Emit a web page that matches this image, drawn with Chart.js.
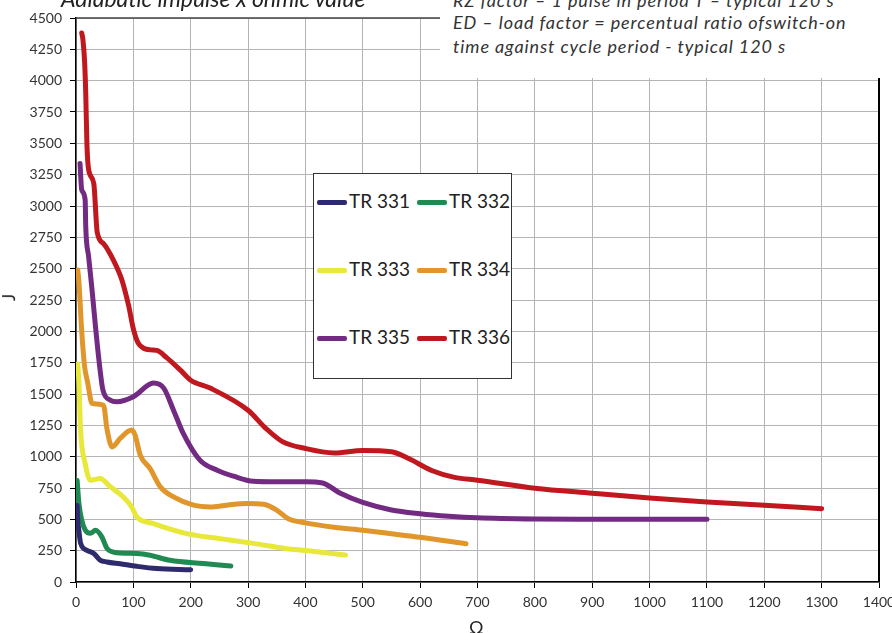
<!DOCTYPE html>
<html>
<head>
<meta charset="utf-8">
<script src="https://cdn.jsdelivr.net/npm/chart.js@4.4.1/dist/chart.umd.min.js"></script>
<style>
  html, body { margin:0; padding:0; background:#fff; }
  #wrap { position:relative; width:892px; height:633px; overflow:hidden; font-family: Lato, "Open Sans", sans-serif; }
  canvas { position:absolute; left:0; top:0; }
  .ov { position:absolute; white-space:nowrap; color:#222; }
  #title { left:61px; top:-16px; font-size:23px; font-style:italic; }
  #note { left:440px; top:0; width:452px; height:78px; background:#fff; }
  #note div { position:absolute; left:13px; font-size:18px; letter-spacing:0.9px; font-style:italic; color:#333; }
  #legend { left:313px; top:173px; width:197px; height:204px; border:1.5px solid #333; background:#fff; }
  .item { position:absolute; font-size:19px; color:#222; }
  .sw { display:inline-block; width:30px; height:5px; border-radius:2px; vertical-align:middle; margin-right:2px; position:relative; top:-1px; }
  #ytitle { left:5px; top:287px; font-size:17px; transform:rotate(-90deg); }
  #xtitle { left:469px; top:616px; font-size:18px; }
</style>
</head>
<body>
<div id="wrap">
  <canvas id="c" width="892" height="633"></canvas>
  <div id="title" class="ov">Adiabatic impulse x ohmic value</div>
  <div id="note" class="ov">
    <div style="top:-11px">RZ factor – 1 pulse in period T – typical 120 s</div>
    <div style="top:11px">ED – load factor = percentual ratio ofswitch-on</div>
    <div style="top:35px">time against cycle period - typical 120 s</div>
  </div>
  <div id="legend" class="ov"></div>
  <div id="ytitle" class="ov">J</div>
  <div id="xtitle" class="ov">Ω</div>
</div>
<script>
// ---- data ----
const seriesNames = ["TR 331", "TR 332", "TR 333", "TR 334", "TR 335", "TR 336"];
const seriesColors = ["#2e2a6e", "#1f8a52", "#e8e83a", "#e0962a", "#722a82", "#c0181f"];

const tr331X = [2, 3, 5, 8, 19, 31, 42, 54, 77, 106, 141, 200];
const tr331Y = [610, 500, 410, 310, 253, 227, 175, 160, 145, 125, 107, 98];

const tr332X = [2, 5, 10, 16, 25, 34, 45, 54, 66, 106, 129, 164, 222, 270];
const tr332Y = [810, 630, 495, 415, 388, 412, 360, 268, 238, 227, 213, 173, 147, 127];

const tr333X = [3, 5, 8, 16, 25, 42, 60, 82, 97, 106, 135, 193, 251, 309, 367, 400, 470];
const tr333Y = [1740, 1600, 1210, 945, 812, 825, 760, 680, 600, 520, 466, 386, 346, 308, 266, 252, 215];

const tr334X = [3, 5, 10, 15, 20, 28, 48, 54, 63, 77, 97, 103, 112, 129, 147, 170, 205, 234, 263, 298, 327, 350, 370, 400, 450, 500, 550, 600, 680];
const tr334Y = [2490, 2400, 2000, 1720, 1600, 1425, 1410, 1220, 1078, 1145, 1212, 1172, 1012, 906, 759, 679, 613, 599, 613, 626, 620, 573, 505, 472, 437, 413, 385, 357, 305];

const tr335X = [7, 10, 16, 17, 22, 28, 34, 42, 47, 60, 71, 100, 135, 153, 170, 187, 216, 246, 275, 309, 350, 400, 430, 460, 500, 550, 600, 650, 700, 800, 900, 1000, 1100];
const tr335Y = [3340, 3128, 3047, 2835, 2596, 2330, 2037, 1691, 1530, 1451, 1438, 1478, 1587, 1547, 1371, 1185, 972, 892, 844, 804, 800, 800, 790, 710, 635, 575, 545, 525, 512, 502, 500, 500, 500];

const tr336X = [10, 12, 15, 17, 19, 22, 31, 37, 48, 65, 80, 92, 100, 108, 118, 130, 141, 158, 182, 200, 234, 300, 330, 360, 400, 450, 500, 550, 580, 620, 660, 700, 800, 900, 1000, 1100, 1200, 1300];
const tr336Y = [4380, 4330, 4150, 3900, 3500, 3290, 3180, 2790, 2700, 2570, 2410, 2200, 2020, 1910, 1865, 1852, 1848, 1790, 1690, 1610, 1547, 1370, 1230, 1120, 1065, 1030, 1050, 1040, 985, 890, 835, 812, 748, 708, 670, 638, 612, 585];

const xTicks = [0, 100, 200, 300, 400, 500, 600, 700, 800, 900, 1000, 1100, 1200, 1300, 1400];
const yTicks = [0, 250, 500, 750, 1000, 1250, 1500, 1750, 2000, 2250, 2500, 2750, 3000, 3250, 3500, 3750, 4000, 4250, 4500];

const xs = [tr331X, tr332X, tr333X, tr334X, tr335X, tr336X];
const ys = [tr331Y, tr332Y, tr333Y, tr334Y, tr335Y, tr336Y];

const datasets = seriesNames.map((n, i) => ({
  label: n,
  data: xs[i].map((x, j) => ({ x: x, y: ys[i][j] })),
  borderColor: seriesColors[i],
  backgroundColor: seriesColors[i],
  borderWidth: 5,
  pointRadius: 0,
  fill: false,
  cubicInterpolationMode: 'monotone',
  borderCapStyle: 'round',
  borderJoinStyle: 'round'
}));

// HTML legend
const legend = document.getElementById('legend');
const legPos = [[3, 27], [103, 27], [3, 95], [103, 95], [3, 163], [103, 163]];
seriesNames.forEach((n, i) => {
  const d = document.createElement('div');
  d.className = 'item';
  d.style.left = legPos[i][0] + 'px';
  d.style.top = (legPos[i][1] - 12) + 'px';
  d.innerHTML = '<span class="sw" style="background:' + seriesColors[i] + '"></span>' + n;
  legend.appendChild(d);
});

const borderPlugin = {
  id: 'borders',
  afterDraw(chart) {
    const a = chart.chartArea, ctx = chart.ctx;
    ctx.save();
    ctx.strokeStyle = '#000';
    ctx.lineWidth = 2;
    ctx.beginPath();
    ctx.moveTo(a.right, a.top);
    ctx.lineTo(a.right, a.bottom);
    ctx.stroke();
    ctx.strokeStyle = '#444';
    ctx.lineWidth = 1.5;
    ctx.beginPath();
    ctx.moveTo(a.left, a.top);
    ctx.lineTo(a.right, a.top);
    ctx.stroke();
    ctx.restore();
  }
};

Chart.defaults.font.family = 'Lato, "Open Sans", sans-serif';
new Chart(document.getElementById('c'), {
  type: 'line',
  data: { datasets: datasets },
  options: {
    responsive: false,
    animation: false,
    devicePixelRatio: 1,
    layout: { padding: { top: 18, right: 13, left: 0, bottom: 0 } },
    plugins: { legend: { display: false }, tooltip: { enabled: false } },
    scales: {
      x: {
        type: 'linear', min: 0, max: 1400,
        afterBuildTicks: s => { s.ticks = xTicks.map(v => ({ value: v })); },
        afterFit: s => { s.height = 51; s.paddingLeft = 0; s.paddingRight = 0; },
        grid: { color: '#b4b4b4', lineWidth: 1, tickLength: 6, tickColor: '#000' },
        border: { color: '#000', width: 1.5 },
        ticks: { color: '#333', font: { size: 14 }, padding: 6, maxRotation: 0, autoSkip: false, callback: v => String(v) }
      },
      y: {
        type: 'linear', min: 0, max: 4500,
        afterBuildTicks: s => { s.ticks = yTicks.map(v => ({ value: v })); },
        afterFit: s => { s.width = 76; s.paddingTop = 0; s.paddingBottom = 0; },
        grid: { color: '#b4b4b4', lineWidth: 1, tickLength: 6, tickColor: '#000' },
        border: { color: '#000', width: 1.5 },
        ticks: { color: '#333', font: { size: 14 }, padding: 8, autoSkip: false, callback: v => String(v) }
      }
    }
  },
  plugins: [borderPlugin]
});
</script>
</body>
</html>
